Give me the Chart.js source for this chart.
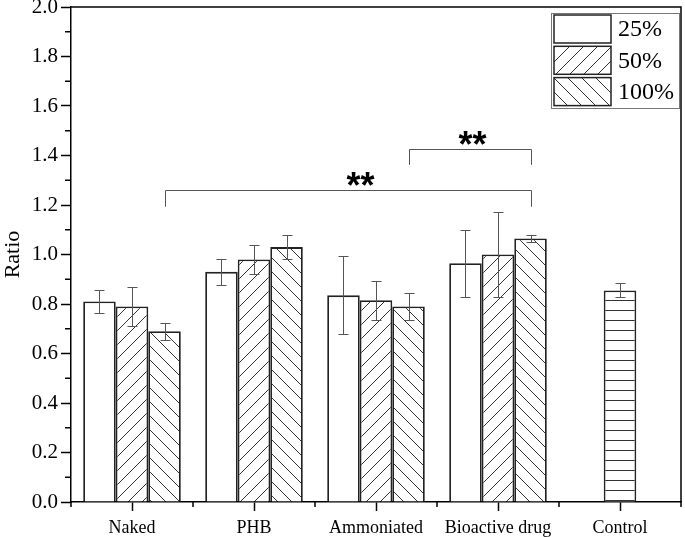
<!DOCTYPE html>
<html>
<head>
<meta charset="utf-8">
<script src="https://cdn.jsdelivr.net/npm/chart.js@4"></script>
<style>
  body { margin: 0; background: #fff; }
  #wrap { width: 685px; height: 537px; position: relative; }
</style>
</head>
<body>
<div id="wrap"><canvas id="ratioChart"></canvas></div>
<script>
// ### DATA ###
const categories = ["Naked", "PHB", "Ammoniated", "Bioactive drug", "Control"];
const seriesLabels = ["25%", "50%", "100%"];
const ratio25 = [0.81, 0.93, 0.835, 0.965, null];
const ratio50 = [0.79, 0.98, 0.815, 1.0, null];
const ratio100 = [0.69, 1.03, 0.79, 1.065, null];
const ratioControl = [null, null, null, null, 0.855];
const err25 = [0.045, 0.053, 0.157, 0.136, null];
const err50 = [0.08, 0.06, 0.079, 0.17, null];
const err100 = [0.035, 0.048, 0.055, 0.013, null];
const errControl = [null, null, null, null, 0.028];
const yMin = 0, yMax = 2, yStep = 0.2;
// significance brackets: [from category, to category] on the 100% bars
const bracketFrom = [0, 2];
const bracketTo = [3, 3];
const bracketLevel = [1.26, 1.425];
const bracketLeg = [1.193, 1.362];
const bracketText = ["**", "**"];

const SERIF = "'Liberation Serif', 'Times New Roman', serif";

// Hatch fills
function makeHatch(kind) {
  let size = kind == "horiz" ? 10 : 14;
  let c = document.createElement("canvas");
  c.width = size; c.height = size;
  let ctx = c.getContext("2d");
  ctx.fillStyle = "#fff";
  ctx.fillRect(0, 0, size, size);
  if (kind == "none") return ctx.createPattern(c, "repeat");
  ctx.strokeStyle = "#333";
  ctx.lineWidth = 1;
  ctx.beginPath();
  if (kind == "fwd") {
    ctx.moveTo(-1, size + 1); ctx.lineTo(size + 1, -1);
    ctx.moveTo(-2, 2); ctx.lineTo(2, -2);
    ctx.moveTo(size - 2, size + 2); ctx.lineTo(size + 2, size - 2);
  } else if (kind == "back") {
    ctx.moveTo(-1, -1); ctx.lineTo(size + 1, size + 1);
    ctx.moveTo(size - 2, -2); ctx.lineTo(size + 2, 2);
    ctx.moveTo(-2, size - 2); ctx.lineTo(2, size + 2);
  } else if (kind == "horiz") {
    ctx.moveTo(0, 0.5); ctx.lineTo(size, 0.5);
  }
  ctx.stroke();
  return ctx.createPattern(c, "repeat");
}

const fills = [makeHatch("none"), makeHatch("fwd"), makeHatch("back"), makeHatch("horiz")];
const errors = [err25, err50, err100, errControl];

// ### PLUGINS ###
const errorBars = {
  id: "errorBars",
  afterDatasetsDraw(chart) {
    let ctx = chart.ctx;
    let y = chart.scales.y;
    ctx.save();
    ctx.strokeStyle = "#555";
    ctx.lineWidth = 1;
    chart.data.datasets.forEach((ds, di) => {
      let meta = chart.getDatasetMeta(di);
      meta.data.forEach((bar, i) => {
        let v = ds.data[i], e = errors[di][i];
        if (v == null || e == null) return;
        let top = Math.round(y.getPixelForValue(v + e)) + 0.5;
        let bot = Math.round(y.getPixelForValue(v - e)) + 0.5;
        let x = Math.round(bar.x) + 0.5;
        ctx.beginPath();
        ctx.moveTo(x, top); ctx.lineTo(x, bot);
        ctx.moveTo(x - 5, top); ctx.lineTo(x + 5, top);
        ctx.moveTo(x - 5, bot); ctx.lineTo(x + 5, bot);
        ctx.stroke();
      });
    });
    ctx.restore();
  }
};

const frameAndMinor = {
  id: "frameAndMinor",
  afterDraw(chart) {
    let ctx = chart.ctx;
    let a = chart.chartArea;
    let x = chart.scales.x, y = chart.scales.y;
    ctx.save();
    ctx.strokeStyle = "#000";
    ctx.lineWidth = 1.5;
    ctx.beginPath();
    ctx.moveTo(a.left, a.top); ctx.lineTo(a.right, a.top); ctx.lineTo(a.right, a.bottom);
    ctx.stroke();
    // minor ticks
    ctx.beginPath();
    for (let v = yMin + yStep / 2; v < yMax; v += yStep) {
      let py = y.getPixelForValue(v);
      ctx.moveTo(a.left - 6, py); ctx.lineTo(a.left, py);
    }
    for (let i = 0; i <= categories.length; i++) {
      let px = x.getPixelForValue(i - 0.5);
      ctx.moveTo(px, a.bottom); ctx.lineTo(px, a.bottom + 5);
    }
    ctx.stroke();
    ctx.restore();
  }
};

const brackets = {
  id: "brackets",
  afterDraw(chart) {
    let ctx = chart.ctx;
    let y = chart.scales.y;
    let meta100 = chart.getDatasetMeta(2);
    ctx.save();
    for (let k = 0; k < bracketLevel.length; k++) {
      let x1 = Math.round(meta100.data[bracketFrom[k]].x) + 0.5;
      let x2 = Math.round(meta100.data[bracketTo[k]].x) + 0.5;
      let yl = Math.round(y.getPixelForValue(bracketLevel[k])) + 0.5;
      let yb = y.getPixelForValue(bracketLeg[k]);
      ctx.strokeStyle = "#555";
      ctx.lineWidth = 1;
      ctx.beginPath();
      ctx.moveTo(x1, yb); ctx.lineTo(x1, yl); ctx.lineTo(x2, yl); ctx.lineTo(x2, yb);
      ctx.stroke();
      ctx.fillStyle = "#000";
      ctx.font = "bold 36px 'Liberation Sans', Arial, sans-serif";
      ctx.textAlign = "center";
      ctx.textBaseline = "alphabetic";
      let mid = (x1 + x2) / 2 + (k == 0 ? 12 : 2);
      ctx.fillText(bracketText[k], mid, yl + 7);
    }
    ctx.restore();
  }
};

const boxLegend = {
  id: "boxLegend",
  afterDraw(chart) {
    let ctx = chart.ctx;
    let a = chart.chartArea;
    let left = a.right - 130, top = a.top + 6;
    ctx.save();
    ctx.strokeStyle = "#777";
    ctx.lineWidth = 1;
    ctx.strokeRect(left + 0.5, top + 0.5, 128, 95);
    for (let i = 0; i < seriesLabels.length; i++) {
      let sy = top + 2 + i * 31.3;
      ctx.fillStyle = fills[i];
      ctx.fillRect(left + 3, sy, 57, 28);
      ctx.strokeStyle = "#222";
      ctx.lineWidth = 1.5;
      ctx.strokeRect(left + 3, sy, 57, 28);
      ctx.fillStyle = "#000";
      ctx.font = "24px " + SERIF;
      ctx.textAlign = "left";
      ctx.textBaseline = "middle";
      ctx.fillText(seriesLabels[i], left + 67, sy + 15);
    }
    ctx.restore();
  }
};

// ### DATASETS ###
let datasets = [ratio25, ratio50, ratio100].map((vals, i) => ({
  label: seriesLabels[i],
  data: vals,
  backgroundColor: fills[i],
  borderColor: "#222",
  borderWidth: 1.8,
  categoryPercentage: 0.8,
  barPercentage: 1.0
}));
datasets.push({
  label: "Control",
  data: ratioControl,
  backgroundColor: fills[3],
  borderColor: "#222",
  borderWidth: 1.8,
  grouped: false,
  categoryPercentage: 0.8,
  barPercentage: 1 / 3
});

new Chart(document.querySelector("#ratioChart"), {
  type: "bar",
  data: { labels: categories, datasets: datasets },
  options: {
    responsive: true,
    maintainAspectRatio: false,
    animation: false,
    layout: { padding: { top: 7, right: 4, left: 0, bottom: 0 } },
    plugins: { legend: { display: false }, tooltip: { enabled: false } },
    scales: {
      x: {
        offset: true,
        grid: { offset: false, drawOnChartArea: false, tickLength: 9, tickColor: "#000", tickWidth: 1.5 },
        border: { color: "#000", width: 1.5 },
        ticks: { color: "#000", font: { family: SERIF, size: 18 }, padding: 6, maxRotation: 0, autoSkip: false },
        afterFit(scale) { scale.height = 35; scale.paddingLeft = 0; scale.paddingRight = 0; }
      },
      y: {
        min: yMin,
        max: yMax,
        grid: { drawOnChartArea: false, tickLength: 10, tickColor: "#000", tickWidth: 1.5 },
        border: { color: "#000", width: 1.5 },
        ticks: {
          stepSize: yStep, color: "#000", padding: 3,
          font: { family: SERIF, size: 21 },
          callback: (v) => Number(v).toFixed(1)
        },
        title: { display: true, text: "Ratio", color: "#000", font: { family: SERIF, size: 22 }, padding: 0 },
        afterFit(scale) { scale.width = 71; scale.paddingTop = 0; scale.paddingBottom = 0; }
      }
    }
  },
  plugins: [errorBars, frameAndMinor, brackets, boxLegend]
});
</script>
</body>
</html>
